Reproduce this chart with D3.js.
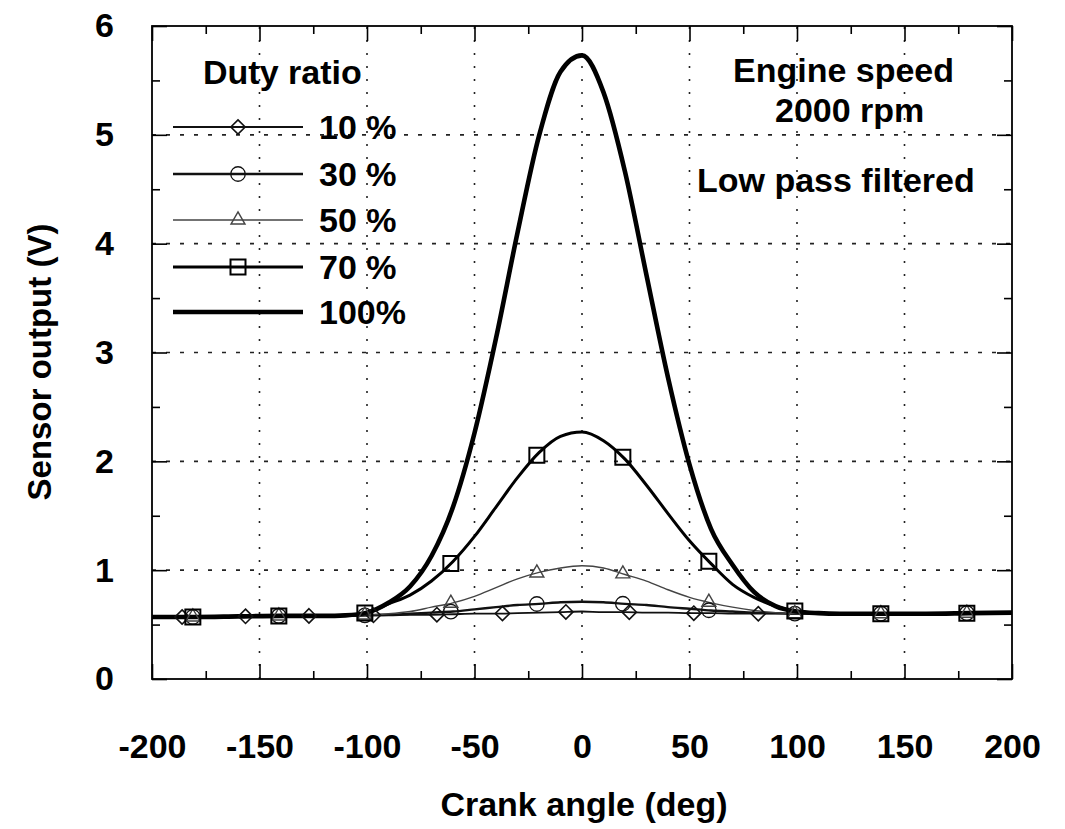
<!DOCTYPE html>
<html>
<head>
<meta charset="utf-8">
<script src="https://cdn.jsdelivr.net/npm/d3@7"></script>
<style>
  body { margin: 0; background: #fff; }
  svg text { font-family: Arial, "Liberation Sans", sans-serif; font-weight: bold; fill: #000; }
</style>
</head>
<body>
<div class="chart"></div>
<script>
// Crank angle (deg) sample points shared by every series.
const crankAngle = [-200, -180, -160, -140, -120, -110, -100, -90, -80, -70, -60, -50, -40, -30, -20, -10, 0,
  10, 20, 30, 40, 50, 60, 70, 80, 90, 100, 110, 120, 140, 160, 180, 200];
// Sensor output (V) per duty ratio.
const duty10 = [0.57, 0.57, 0.575, 0.58, 0.58, 0.58, 0.585, 0.585, 0.59, 0.59, 0.595, 0.6, 0.6, 0.605, 0.61, 0.615, 0.62,
  0.615, 0.615, 0.61, 0.61, 0.605, 0.605, 0.6, 0.6, 0.6, 0.6, 0.6, 0.6, 0.6, 0.6, 0.605, 0.61];
const duty30 = [0.57, 0.57, 0.575, 0.58, 0.58, 0.58, 0.585, 0.59, 0.6, 0.61, 0.62, 0.64, 0.66, 0.68, 0.69, 0.705, 0.71,
  0.705, 0.69, 0.68, 0.66, 0.645, 0.63, 0.62, 0.61, 0.605, 0.6, 0.6, 0.6, 0.6, 0.6, 0.605, 0.61];
const duty50 = [0.57, 0.57, 0.575, 0.58, 0.58, 0.58, 0.59, 0.6, 0.62, 0.66, 0.70, 0.76, 0.84, 0.92, 0.98, 1.02, 1.04,
  1.02, 0.96, 0.90, 0.82, 0.75, 0.70, 0.66, 0.63, 0.61, 0.6, 0.6, 0.6, 0.6, 0.6, 0.605, 0.61];
const duty70 = [0.57, 0.57, 0.575, 0.58, 0.58, 0.585, 0.61, 0.69, 0.77, 0.90, 1.08, 1.31, 1.58, 1.85, 2.08, 2.23, 2.27,
  2.19, 2.02, 1.78, 1.52, 1.27, 1.06, 0.87, 0.75, 0.67, 0.62, 0.605, 0.6, 0.6, 0.6, 0.605, 0.61];
const duty100 = [0.57, 0.57, 0.575, 0.58, 0.58, 0.585, 0.61, 0.70, 0.85, 1.13, 1.58, 2.26, 3.13, 4.10, 4.99, 5.58, 5.73,
  5.39, 4.66, 3.71, 2.77, 1.97, 1.38, 1.05, 0.80, 0.67, 0.62, 0.605, 0.6, 0.6, 0.6, 0.605, 0.61];
// Where the markers sit along the curves.
const diamondAngles = [-186, -156.5, -127, -97, -67.5, -37, -7.5, 22, 52, 82];
const markerAngles = [-181, -141, -101, -61, -21, 19, 59, 99, 139, 179];
// Legend and annotation texts.
const dutyLabels = ["10 %", "30 %", "50 %", "70 %", "100%"];
const xTicks = [-200, -150, -100, -50, 0, 50, 100, 150, 200];
const yTicks = [0, 1, 2, 3, 4, 5, 6];

const width = 1065, height = 829;
const margin = { top: 26, right: 53, bottom: 150, left: 152 };

const svg = d3.select(".chart").append("svg")
  .attr("width", width)
  .attr("height", height);

const x = d3.scaleLinear().domain([-200, 200]).range([margin.left, width - margin.right]);
const y = d3.scaleLinear().domain([0, 6]).range([height - margin.bottom, margin.top]);

// Grid: dotted verticals, dashed horizontals.
svg.append("g").selectAll("line")
  .data(d3.range(-150, 151, 50))
  .join("line")
  .attr("x1", d => x(d)).attr("x2", d => x(d))
  .attr("y1", y(0)).attr("y2", y(6))
  .attr("stroke", "#222").attr("stroke-width", 1.6)
  .attr("stroke-dasharray", "2,11");
svg.append("g").selectAll("line")
  .data(d3.range(1, 6))
  .join("line")
  .attr("x1", x(-200)).attr("x2", x(200))
  .attr("y1", d => y(d)).attr("y2", d => y(d))
  .attr("stroke", "#222").attr("stroke-width", 1.6)
  .attr("stroke-dasharray", "4,10");

// Frame.
svg.append("rect")
  .attr("x", x(-200)).attr("y", y(6))
  .attr("width", x(200) - x(-200)).attr("height", y(0) - y(6))
  .attr("fill", "none").attr("stroke", "#000").attr("stroke-width", 1.8);

// Axes with inward ticks. Labels use a plain hyphen like the original.
const fontSize = 34;
const xMinor = d3.range(-175, 200, 50);
const yMinor = d3.range(0.5, 6, 1);
const plain = d => String(d);

svg.append("g").attr("transform", `translate(0,${y(0)})`)
  .call(d3.axisBottom(x).tickValues(xTicks).tickSize(-15).tickPadding(55).tickFormat(plain));
svg.append("g").attr("transform", `translate(0,${y(0)})`)
  .call(d3.axisBottom(x).tickValues(xMinor).tickSize(-8).tickFormat(""));
svg.append("g").attr("transform", `translate(0,${y(6)})`)
  .call(d3.axisTop(x).tickValues(xTicks).tickSize(-15).tickFormat(""));
svg.append("g").attr("transform", `translate(0,${y(6)})`)
  .call(d3.axisTop(x).tickValues(xMinor).tickSize(-8).tickFormat(""));
svg.append("g").attr("transform", `translate(${x(-200)},0)`)
  .call(d3.axisLeft(y).tickValues(yTicks).tickSize(-15).tickPadding(38).tickFormat(plain));
svg.append("g").attr("transform", `translate(${x(-200)},0)`)
  .call(d3.axisLeft(y).tickValues(yMinor).tickSize(-8).tickFormat(""));
svg.append("g").attr("transform", `translate(${x(200)},0)`)
  .call(d3.axisRight(y).tickValues(yTicks).tickSize(-15).tickFormat(""));
svg.append("g").attr("transform", `translate(${x(200)},0)`)
  .call(d3.axisRight(y).tickValues(yMinor).tickSize(-8).tickFormat(""));

svg.selectAll(".domain").remove();
svg.selectAll(".tick line").attr("stroke", "#000").attr("stroke-width", 1.6);
svg.selectAll(".tick text")
  .style("font-family", "Arial, 'Liberation Sans', sans-serif")
  .style("font-weight", "bold")
  .style("font-size", fontSize + "px")
  .attr("fill", "#000");

// Axis titles.
svg.append("text")
  .attr("x", 584).attr("y", 816)
  .attr("text-anchor", "middle")
  .style("font-size", fontSize + "px")
  .text("Crank angle (deg)");
svg.append("text")
  .attr("transform", "translate(51,362) rotate(-90)")
  .attr("text-anchor", "middle")
  .style("font-size", "33px")
  .text("Sensor output (V)");

// Series.
const series = [
  { name: dutyLabels[0], values: duty10, width: 1.8, color: "#111", marker: "diamond", angles: diamondAngles },
  { name: dutyLabels[1], values: duty30, width: 2.4, color: "#111", marker: "circle", angles: markerAngles },
  { name: dutyLabels[2], values: duty50, width: 1.4, color: "#444", marker: "triangle", angles: markerAngles },
  { name: dutyLabels[3], values: duty70, width: 3, color: "#000", marker: "square", angles: markerAngles },
  { name: dutyLabels[4], values: duty100, width: 4.6, color: "#000", marker: null, angles: [] }
];

const symbols = {
  diamond: d3.symbol(d3.symbolDiamond2, 130),
  circle: d3.symbol(d3.symbolCircle, 165),
  triangle: d3.symbol(d3.symbolTriangle2, 140),
  square: d3.symbol(d3.symbolSquare, 225)
};
const markerStroke = { diamond: 1.6, circle: 1.3, triangle: 1.4, square: 2 };

// Position a marker on the curve by looking up its angle in the series.
function valueAt(values, angle) {
  const i = Math.max(1, d3.bisectLeft(crankAngle, angle));
  const x0 = crankAngle[i - 1], x1 = crankAngle[i];
  return d3.interpolateNumber(values[i - 1], values[i])((angle - x0) / (x1 - x0));
}

const line = d3.line()
  .x(d => x(d[0]))
  .y(d => y(d[1]))
  .curve(d3.curveMonotoneX);

const plotGroup = svg.append("g");
series.forEach(s => {
  plotGroup.append("path")
    .datum(crankAngle.map((a, i) => [a, s.values[i]]))
    .attr("fill", "none")
    .attr("stroke", s.color)
    .attr("stroke-width", s.width)
    .attr("stroke-linejoin", "round")
    .attr("d", line);
});
series.filter(s => s.marker).forEach(s => {
  plotGroup.append("g").selectAll("path")
    .data(s.angles)
    .join("path")
    .attr("transform", a => `translate(${x(a)},${y(valueAt(s.values, a))})`)
    .attr("d", symbols[s.marker])
    .attr("fill", "none")
    .attr("stroke", s.color)
    .attr("stroke-width", markerStroke[s.marker]);
});

// Legend.
const legendRows = [127, 174, 220, 267, 312];
svg.append("text").attr("x", 203).attr("y", 84)
  .style("font-size", fontSize + "px").text("Duty ratio");
series.forEach((s, i) => {
  const g = svg.append("g").attr("transform", `translate(0,${legendRows[i]})`);
  g.append("line")
    .attr("x1", 173).attr("x2", 303)
    .attr("stroke", s.color).attr("stroke-width", s.width);
  if (s.marker) {
    g.append("path")
      .attr("transform", "translate(238,0)")
      .attr("d", symbols[s.marker])
      .attr("fill", "none")
      .attr("stroke", s.color)
      .attr("stroke-width", markerStroke[s.marker]);
  }
  g.append("text").attr("x", 319).attr("y", 12)
    .style("font-size", fontSize + "px").text(s.name);
});

// Annotations.
svg.append("text").attr("x", 733).attr("y", 82)
  .style("font-size", fontSize + "px").text("Engine speed");
svg.append("text").attr("x", 775).attr("y", 122)
  .style("font-size", fontSize + "px").text("2000 rpm");
svg.append("text").attr("x", 697).attr("y", 192)
  .style("font-size", fontSize + "px").text("Low pass filtered");
</script>
</body>
</html>
